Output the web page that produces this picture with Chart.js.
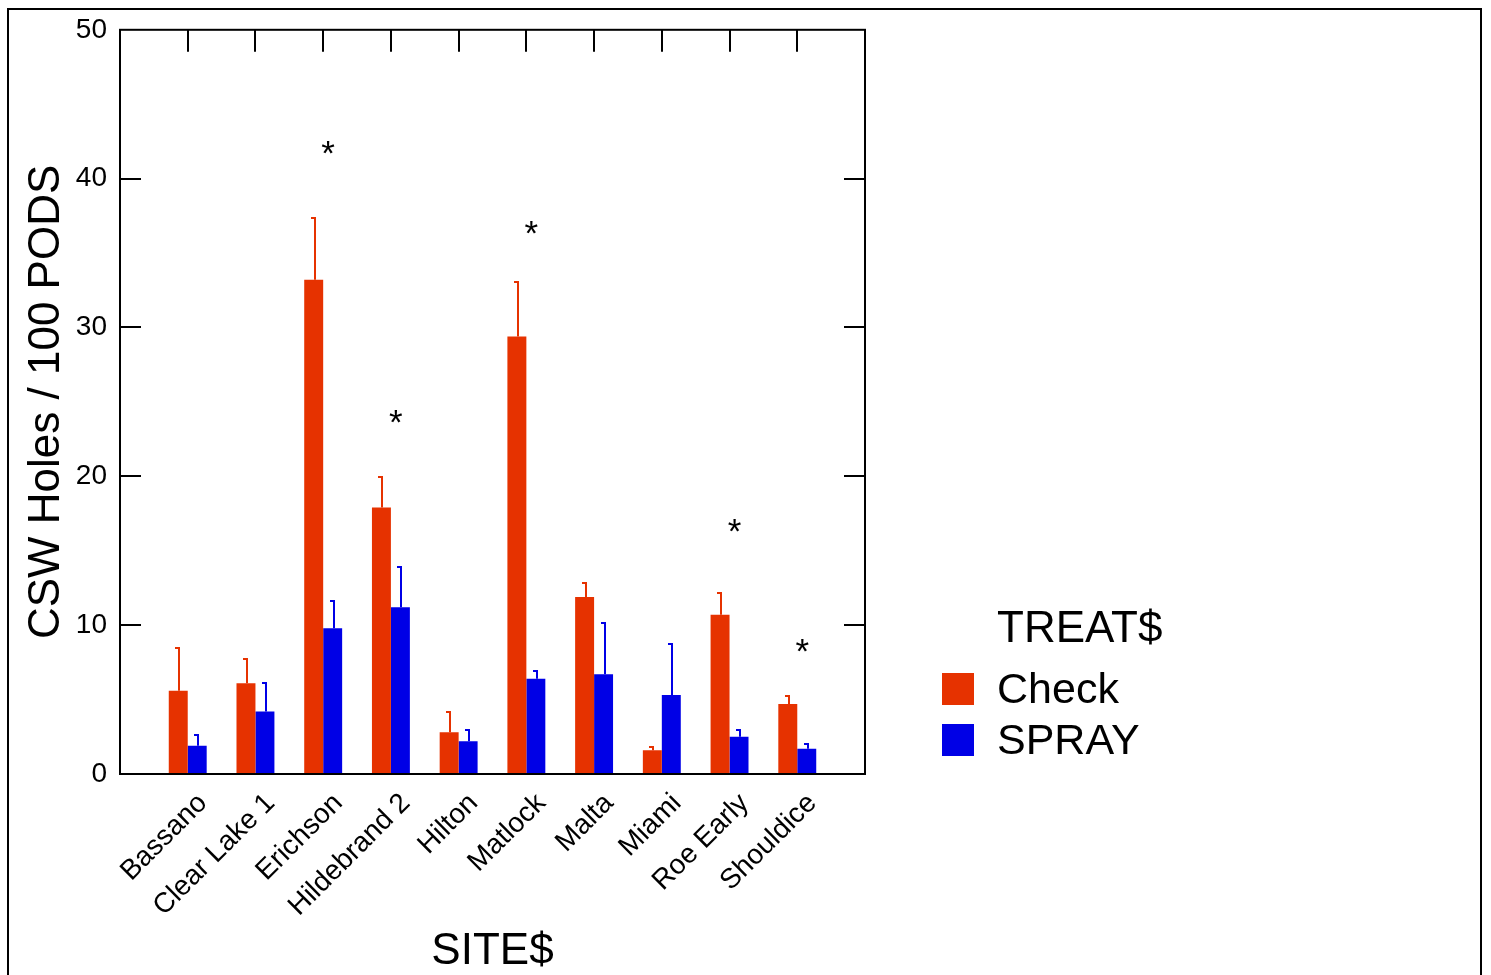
<!DOCTYPE html>
<html>
<head>
<meta charset="utf-8">
<title>CSW Holes / 100 PODS by site</title>
<script src="https://cdn.jsdelivr.net/npm/chart.js@4.4.1/dist/chart.umd.min.js"></script>
<style>
  html, body { margin: 0; padding: 0; background: #fff; }
  #wrap { position: relative; width: 1491px; height: 975px; }
  #frame { position: absolute; left: 7px; top: 8px; width: 1471px; height: 980px;
           border: 2px solid #000; border-bottom: none; pointer-events: none; }
</style>
</head>
<body>
<div id="wrap">
  <canvas id="chart"></canvas>
  <div id="frame"></div>
</div>
<script>
// Data
const sites = ['Bassano', 'Clear Lake 1', 'Erichson', 'Hildebrand 2', 'Hilton',
               'Matlock', 'Malta', 'Miami', 'Roe Early', 'Shouldice'];
const checkMeans = [5.6, 6.1, 33.2, 17.9, 2.8, 29.4, 11.9, 1.6, 10.7, 4.7];
const checkUpper = [8.5, 7.8, 37.4, 20.0, 4.2, 33.1, 12.9, 1.9, 12.2, 5.3];
const sprayMeans = [1.9, 4.2, 9.8, 11.2, 2.2, 6.4, 6.7, 5.3, 2.5, 1.7];
const sprayUpper = [2.7, 6.2, 11.7, 14.0, 3.0, 7.0, 10.2, 8.8, 3.0, 2.1];
const starLevels = [null, null, 42.0, 23.9, null, 36.6, null, null, 16.6, 8.5];
const yTicks = [0, 10, 20, 30, 40, 50];

const checkColor = '#e63200';
const sprayColor = '#0000e6';
const FONT = '"Liberation Sans", Arial, sans-serif';

// empty slots at both ends so the sites sit at 1..10 on an 0..11 axis
const labels = [''].concat(sites, ['']);
const pad = arr => [null].concat(arr, [null]);

// error bars (upper only) in the bar colour
const errorBars = {
    id: 'errorBars',
    afterDatasetsDraw(chart) {
        const ctx = chart.ctx;
        const y = chart.scales.y;
        chart.data.datasets.forEach((ds, di) => {
            const meta = chart.getDatasetMeta(di);
            ctx.save();
            ctx.strokeStyle = ds.backgroundColor;
            ctx.lineWidth = 2;
            meta.data.forEach((bar, i) => {
                const up = ds.upper[i];
                if (up == null) return;
                const top = Math.round(y.getPixelForValue(up));
                const x = Math.round(bar.x) + 1;
                ctx.beginPath();
                ctx.moveTo(x, bar.y);
                ctx.lineTo(x, top);
                ctx.moveTo(x - 4, top + 1);
                ctx.lineTo(x, top + 1);
                ctx.stroke();
            });
            ctx.restore();
        });
    }
};

// plot frame with inward ticks, asterisks and the legend block
const decorations = {
    id: 'decorations',
    afterDatasetsDraw(chart) {
        const ctx = chart.ctx;
        const { left, right, top, bottom } = chart.chartArea;
        const x = chart.scales.x;
        const y = chart.scales.y;
        ctx.save();
        ctx.strokeStyle = '#000';
        ctx.lineWidth = 2;
        ctx.strokeRect(left, top, right - left, bottom - top);

        ctx.beginPath();
        yTicks.slice(1, -1).forEach(v => {
            const py = Math.round(y.getPixelForValue(v));
            ctx.moveTo(left, py); ctx.lineTo(left + 21, py);
            ctx.moveTo(right, py); ctx.lineTo(right - 21, py);
        });
        sites.forEach((s, i) => {
            const px = Math.round(x.getPixelForValue(i + 1));
            ctx.moveTo(px, top); ctx.lineTo(px, top + 22);
        });
        ctx.stroke();

        // significance marks
        ctx.fillStyle = '#000';
        ctx.font = '35px ' + FONT;
        ctx.textAlign = 'center';
        ctx.textBaseline = 'alphabetic';
        starLevels.forEach((lv, i) => {
            if (lv == null) return;
            ctx.fillText('*', x.getPixelForValue(i + 1) + 5, y.getPixelForValue(lv) + 16);
        });

        // legend
        const lx = right + 77;
        ctx.textAlign = 'left';
        ctx.font = '44px ' + FONT;
        ctx.fillText('TREAT$', lx + 55, bottom - 132);
        ctx.font = '43px ' + FONT;
        chart.data.datasets.forEach((ds, di) => {
            const by = bottom - 101 + di * 51;
            ctx.fillStyle = ds.backgroundColor;
            ctx.fillRect(lx, by, 32, 32);
            ctx.fillStyle = '#000';
            ctx.fillText(ds.label, lx + 55, by + 30);
        });
        ctx.restore();
    }
};

new Chart(document.getElementById('chart'), {
    type: 'bar',
    data: {
        labels: labels,
        datasets: [{
            label: 'Check',
            data: pad(checkMeans),
            upper: pad(checkUpper),
            backgroundColor: checkColor,
            categoryPercentage: 0.56,
            barPercentage: 1.0
        }, {
            label: 'SPRAY',
            data: pad(sprayMeans),
            upper: pad(sprayUpper),
            backgroundColor: sprayColor,
            categoryPercentage: 0.56,
            barPercentage: 1.0
        }]
    },
    options: {
        responsive: true,
        maintainAspectRatio: false,
        animation: false,
        layout: { padding: { left: 20, right: 626, top: 29, bottom: 0 } },
        plugins: {
            legend: { display: false },
            tooltip: { enabled: false }
        },
        scales: {
            x: {
                offset: false,
                border: { display: false },
                grid: { display: false, drawTicks: false, offset: false },
                ticks: {
                    autoSkip: false,
                    minRotation: 45,
                    maxRotation: 45,
                    color: '#000',
                    font: { family: FONT, size: 28 },
                    padding: 13,
                    labelOffset: 15
                },
                title: {
                    display: true,
                    text: 'SITE$',
                    color: '#000',
                    font: { family: FONT, size: 44, lineHeight: 1 },
                    padding: { top: 0, bottom: 1 }
                },
                afterFit: s => { s.height = 201; }
            },
            y: {
                min: 0,
                max: 50,
                afterBuildTicks: s => { s.ticks = yTicks.map(v => ({ value: v })); },
                border: { display: false },
                grid: { display: false, drawTicks: false },
                ticks: {
                    color: '#000',
                    font: { family: FONT, size: 28 },
                    padding: 13
                },
                title: {
                    display: true,
                    text: 'CSW Holes / 100 PODS',
                    color: '#000',
                    font: { family: FONT, size: 44 },
                    padding: 0
                },
                afterFit: s => { s.width = 100; }
            }
        }
    },
    plugins: [errorBars, decorations]
});
</script>
</body>
</html>
